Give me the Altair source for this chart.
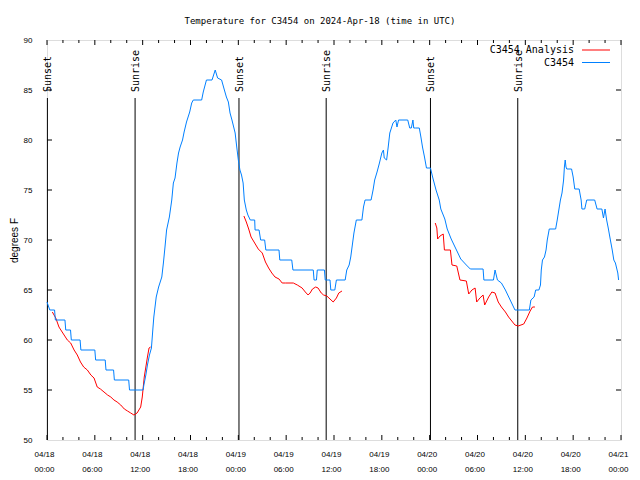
import altair as alt
import pandas as pd

# ---------------- data (hours since 2024-04-18 00:00 UTC, degrees F) ----------------
obs_hours = [0.0, 0.35, 0.95, 1.05, 2.25, 2.35, 2.95, 3.05, 4.15, 4.25, 6.0, 6.1, 7.3, 7.4, 8.35, 8.45,
             10.25, 10.35, 12.05, 12.15, 12.4, 12.6, 12.85, 13.1, 13.3, 13.4, 13.7, 14.0, 14.4, 14.6,
             14.8, 15.0, 15.35, 15.65, 15.85, 16.06, 16.3, 16.5, 16.7, 17.0, 17.2, 17.5, 17.9, 18.15,
             18.35, 19.4, 19.6, 20.0, 20.7, 21.1, 21.4, 21.9, 22.25, 22.5, 22.75, 22.96, 23.2, 23.6,
             23.8, 24.0, 24.2, 24.4, 24.6, 24.75, 25.0, 25.2, 25.5, 26.05, 26.1, 26.6, 26.8, 27.3,
             27.45, 29.1, 29.2, 30.7, 30.85, 33.4, 33.5, 33.8, 33.9, 34.8, 34.9, 35.5, 35.6, 36.1,
             36.3, 37.4, 37.6, 37.9, 38.1, 38.3, 38.5, 38.8, 39.5, 39.7, 39.9, 40.65, 40.9, 41.1,
             41.4, 41.7, 42.0, 42.2, 42.3, 42.6, 42.8, 43.0, 43.2, 43.4, 43.75, 43.9, 44.1, 45.25,
             45.5, 45.7, 45.9, 46.0, 46.2, 46.7, 46.9, 47.1, 47.35, 47.6, 48.1, 48.4, 48.8, 49.2,
             49.4, 49.9, 50.2, 50.7, 51.3, 51.9, 52.6, 53.1, 54.7, 54.8, 56.0, 56.2, 56.5, 57.0,
             57.5, 58.1, 58.7, 60.5, 60.7, 61.1, 61.3, 61.7, 61.9, 62.0, 62.15, 62.4, 62.6, 62.75,
             63.0, 63.8, 64.0, 64.2, 64.4, 64.6, 64.8, 64.9, 65.0, 65.1, 65.2, 65.8, 66.0, 66.2,
             66.75, 67.0, 67.1, 67.45, 67.7, 68.7, 69.0, 69.6, 69.8, 70.0, 70.2, 70.4, 70.6, 70.9,
             71.1, 71.3, 71.6, 71.7]
obs_temps = [63.8, 63.0, 63.0, 62.0, 62.0, 61.0, 61.0, 60.0, 60.0, 59.0, 59.0, 58.0, 58.0, 57.0, 57.0, 56.0,
             56.0, 55.0, 55.0, 55.5, 56.5, 57.5, 58.5, 59.2, 61.3, 62.3, 64.3, 65.3, 66.3, 67.7,
             69.3, 71.0, 72.3, 74.0, 75.7, 76.2, 77.7, 78.7, 79.3, 80.0, 80.8, 81.8, 82.8, 83.7,
             84.0, 84.0, 84.8, 86.0, 86.0, 87.0, 86.2, 86.0, 85.0, 84.3, 83.8, 82.7, 82.0, 80.7,
             79.3, 78.0, 77.0, 76.5, 75.7, 74.0, 73.0, 72.5, 72.0, 72.0, 71.0, 71.0, 70.0, 70.0,
             69.0, 69.0, 68.0, 68.0, 67.0, 67.0, 66.0, 66.0, 67.0, 67.0, 66.0, 66.0, 65.0, 65.0,
             66.0, 66.0, 67.0, 67.5, 68.3, 69.5, 70.7, 72.0, 72.0, 73.3, 74.0, 74.0, 75.0, 76.0,
             76.8, 77.7, 78.7, 79.0, 78.2, 78.0, 79.3, 80.7, 81.2, 81.7, 82.0, 81.3, 82.0, 82.0,
             81.2, 81.2, 82.0, 81.2, 81.2, 81.2, 80.3, 79.3, 78.3, 77.2, 77.2, 76.2, 75.0, 74.0,
             73.1, 72.1, 71.1, 70.1, 69.1, 68.1, 67.5, 67.1, 67.1, 66.0, 66.0, 67.0, 66.0, 65.7,
             65.0, 64.0, 63.0, 63.0, 64.0, 64.3, 65.0, 65.0, 65.5, 67.0, 68.0, 68.3, 69.0, 70.0,
             71.1, 71.1, 72.0, 73.0, 74.0, 74.7, 76.0, 77.3, 78.0, 77.3, 77.1, 77.1, 76.3, 75.1,
             75.1, 74.0, 73.1, 73.1, 74.0, 74.0, 73.1, 73.1, 72.2, 73.1, 72.0, 71.2, 70.3, 69.0,
             68.0, 67.7, 66.7, 66.0]

ana1_hours = [0.67, 1.1, 1.5, 1.9, 2.55, 2.97, 3.4, 3.8, 4.2, 4.6, 5.06, 5.5, 5.9, 6.3, 6.7, 7.15,
              7.6, 8.0, 8.4, 8.8, 9.25, 9.7, 10.1, 10.5, 10.9, 11.3, 11.75, 11.95, 12.2, 12.4, 12.6,
              12.8, 13.0]
ana1_temps = [62.8, 62.2, 61.3, 60.8, 60.0, 59.7, 59.0, 58.5, 57.8, 57.3, 57.0, 56.5, 56.2, 55.3, 55.1,
              54.8, 54.5, 54.3, 54.0, 53.8, 53.5, 53.1, 52.9, 52.7, 52.5, 52.7, 53.3, 54.3, 56.3, 57.3,
              58.3, 59.2, 59.3]
ana2_hours = [24.7, 25.0, 25.3, 25.6, 26.05, 26.5, 27.0, 27.4, 27.8, 28.2, 28.6, 29.1, 29.5, 29.9,
              30.9, 31.4, 32.0, 32.4, 32.75, 33.0, 33.3, 33.7, 34.0, 34.4, 34.7, 35.1, 35.5, 35.9,
              36.3, 36.6, 37.0]
ana2_temps = [72.4, 71.8, 71.1, 70.3, 69.7, 69.1, 68.7, 67.8, 67.2, 66.7, 66.3, 66.1, 65.7, 65.7,
              65.7, 65.5, 65.2, 64.8, 64.5, 64.7, 65.1, 65.3, 65.2, 64.7, 64.5, 64.4, 64.1, 63.8,
              64.2, 64.7, 64.9]
ana3_hours = [48.7, 48.9, 49.0, 49.3, 49.7, 49.85, 50.6, 50.8, 51.4, 51.8, 52.6, 52.9, 53.3, 53.7,
              53.9, 54.3, 54.7, 54.9, 55.4, 55.8, 56.2, 56.6, 57.0, 57.5, 57.9, 58.3, 58.7, 59.1,
              59.8, 60.2, 60.6, 60.9, 61.2]
ana3_temps = [71.7, 71.2, 70.1, 70.4, 70.6, 69.0, 69.0, 67.5, 67.4, 66.0, 65.9, 64.6, 65.0, 65.2,
              63.8, 64.2, 64.5, 63.5, 64.3, 64.8, 64.7, 63.8, 63.3, 62.8, 62.3, 61.9, 61.5, 61.4,
              61.6, 62.2, 62.9, 63.3, 63.3]

sun_hours = [0.05, 11.05, 24.08, 35.02, 48.1, 59.05]
sun_labels = ["Sunset", "Sunrise", "Sunset", "Sunrise", "Sunset", "Sunrise"]

x_major = list(range(0, 73, 6))
x_minor = [h for h in range(0, 73, 2) if h % 6 != 0]
y_ticks = [55, 60, 65, 70, 75, 80, 85]
y_labels = [50, 55, 60, 65, 70, 75, 80, 85, 90]

legend_labels = ["C3454 Analysis", "C3454"]
legend_colors = ["#ff0000", "#0080ff"]

TITLE = "Temperature for C3454 on 2024-Apr-18 (time in UTC)"

# ---------------- tables ----------------
obs = pd.DataFrame({"h": obs_hours, "t": obs_temps})
ana = pd.concat([
    pd.DataFrame({"h": ana1_hours, "t": ana1_temps, "seg": 1}),
    pd.DataFrame({"h": ana2_hours, "t": ana2_temps, "seg": 2}),
    pd.DataFrame({"h": ana3_hours, "t": ana3_temps, "seg": 3}),
])
sun = pd.DataFrame({"h": sun_hours, "label": sun_labels})
xmaj = pd.DataFrame({"h": x_major})
xmin = pd.DataFrame({"h": x_minor})
yt = pd.DataFrame({"t": y_ticks})
leg = pd.DataFrame({"label": legend_labels, "col": legend_colors,
                    "i": list(range(len(legend_labels)))})

MONO = "DejaVu Sans Mono"
SANS = "Liberation Sans"
W, H = 574, 400

xs = alt.Scale(domain=[0, 72], nice=False, zero=False)
ys = alt.Scale(domain=[50, 90], nice=False, zero=False)
base_ts = "utc(2024,3,18)+datum.value*3600000"
xaxis = alt.Axis(values=x_major, title=None, grid=False, domain=False, ticks=False, tickSize=0,
                 labelPadding=10, labelLineHeight=15, labelFont=SANS, labelFontSize=8,
                 labelOffset=-3,
                 labelColor="black", labelOverlap=False, labelBound=False, labelFlush=False,
                 labelExpr=f"[utcFormat({base_ts},'%m/%d'), utcFormat({base_ts},'%H:%M')]")
yaxis = alt.Axis(values=y_labels, title="degrees F", grid=False, domain=False, ticks=False,
                 tickSize=0, labelPadding=15, labelFont=SANS, labelFontSize=8, labelColor="black",
                 titleFont=SANS, titleFontSize=10, titleFontWeight="normal", titleColor="black",
                 titlePadding=4)

X = lambda f="h": alt.X(f"{f}:Q", scale=xs, axis=xaxis)
Y = lambda f="t": alt.Y(f"{f}:Q", scale=ys, axis=yaxis)

sun_rules = alt.Chart(sun).mark_rule(strokeWidth=1).encode(
    x=X(), y=alt.value(58), y2=alt.value(H), color=alt.value("black"))
sun_text = alt.Chart(sun).mark_text(angle=270, align="left", baseline="middle", font=MONO,
                                    fontSize=10, dy=1).encode(
    x=X(), y=alt.value(52), text="label:N", color=alt.value("black"))

ana_line = alt.Chart(ana).mark_line(strokeWidth=1).encode(
    x=X(), y=Y(), detail="seg:N", order="h:Q", color=alt.value(legend_colors[0]))
obs_line = alt.Chart(obs).mark_line(strokeWidth=1).encode(
    x=X(), y=Y(), order="h:Q", color=alt.value(legend_colors[1]))

tick_layers = [
    alt.Chart(xmaj).mark_rule().encode(x=X(), y=alt.value(H), y2=alt.value(H - 5), color=alt.value("black")),
    alt.Chart(xmaj).mark_rule().encode(x=X(), y=alt.value(0), y2=alt.value(5), color=alt.value("black")),
    alt.Chart(xmin).mark_rule().encode(x=X(), y=alt.value(H), y2=alt.value(H - 3), color=alt.value("black")),
    alt.Chart(xmin).mark_rule().encode(x=X(), y=alt.value(0), y2=alt.value(3), color=alt.value("black")),
    alt.Chart(yt).mark_rule().encode(y=Y(), x=alt.value(0), x2=alt.value(5), color=alt.value("black")),
    alt.Chart(yt).mark_rule().encode(y=Y(), x=alt.value(W), x2=alt.value(W - 5), color=alt.value("black")),
]

# legend drawn inside the plot (label on the left, line sample on the right)
leg_base = alt.Chart(leg).transform_calculate(ly="10 + 12.5*datum.i")
leg_text = leg_base.mark_text(align="right", baseline="middle", font=MONO, fontSize=10).encode(
    x=alt.value(527), y=alt.Y("ly:Q", scale=None, axis=None), text="label:N",
    color=alt.value("black"))
leg_line = leg_base.mark_rule(strokeWidth=1).encode(
    x=alt.value(535), x2=alt.value(563), y=alt.Y("ly:Q", scale=None, axis=None),
    color=alt.Color("col:N", scale=None, legend=None))

chart = alt.layer(sun_rules, sun_text, ana_line, obs_line, *tick_layers, leg_text, leg_line).properties(
    width=W, height=H,
    title=alt.TitleParams(TITLE, font=MONO, fontSize=9, fontWeight="normal", color="black",
                          anchor="middle", offset=10, dx=-14),
    autosize=alt.AutoSizeParams(type="none"),
    padding={"left": 39, "top": 32, "right": 11, "bottom": 32},
).configure_view(stroke="black", strokeWidth=1).configure(background="white")

chart.save("out.html", embed_options={"renderer": "svg", "actions": False})
